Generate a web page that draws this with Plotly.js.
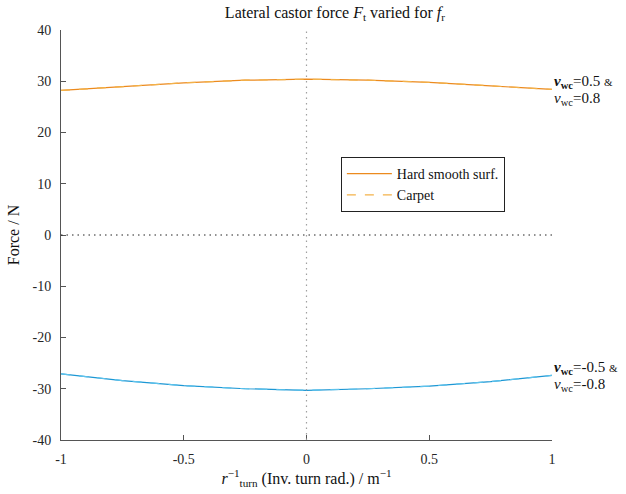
<!DOCTYPE html>
<html>
<head>
<meta charset="utf-8">
<script src="https://cdn.plot.ly/plotly-3.0.1.min.js"></script>
<style>
  html, body { margin: 0; padding: 0; background: #fff; }
  #chart { width: 626px; height: 494px; }
</style>
</head>
<body>
<div id="chart"></div>
<script>
// Inverse turn radius samples (1/m)
const invTurnRadius = [-1, -0.75, -0.5, -0.25, 0, 0.25, 0.5, 0.75, 1];

// Lateral castor force (N), positive wheel-chair speeds
const hardPos   = [28.2, 29.0, 29.7, 30.2, 30.4, 30.2, 29.8, 29.1, 28.4];
const carpetPos = [28.2, 29.0, 29.7, 30.2, 30.4, 30.2, 29.8, 29.1, 28.4];
// Lateral castor force (N), negative wheel-chair speeds
const hardNeg   = [-27.1, -28.4, -29.4, -30.0, -30.3, -30.0, -29.5, -28.6, -27.4];
const carpetNeg = [-27.1, -28.4, -29.4, -30.0, -30.3, -30.0, -29.5, -28.6, -27.4];

const xTicks = [-1, -0.5, 0, 0.5, 1];
const xTickText = ['-1', '-0.5', '0', '0.5', '1'];
const yTicks = [-40, -30, -20, -10, 0, 10, 20, 30, 40];
const yTickText = ['-40', '-30', '-20', '-10', '0', '10', '20', '30', '40'];

// Speed labels placed at the right-hand end of each curve pair
const posLabels = ['<b><i>v</i><sub>wc</sub></b>=0.5 <span style="font-size:11px">&</span>',
                   '<i>v</i><sub>wc</sub>=0.8'];
const negLabels = ['<b><i>v</i><sub>wc</sub></b>=-0.5 <span style="font-size:11px">&</span>',
                   '<i>v</i><sub>wc</sub>=-0.8'];

const serif = 'Liberation Serif';

const traces = [
  { x: invTurnRadius, y: hardPos, mode: 'lines', name: 'Hard smooth surf.',
    line: { color: '#EC8A1E', width: 1.2 } },
  { x: invTurnRadius, y: carpetPos, mode: 'lines', name: 'Carpet',
    line: { color: '#F3B24A', width: 1.2, dash: 'dash' } },
  { x: invTurnRadius, y: hardNeg, mode: 'lines', name: 'Hard smooth surf. (neg)',
    showlegend: false, line: { color: '#1D97D4', width: 1.2 } },
  { x: invTurnRadius, y: carpetNeg, mode: 'lines', name: 'Carpet (neg)',
    showlegend: false, line: { color: '#5EC3EC', width: 1.2, dash: 'dash' } }
];

function endLabel(text, yVal, shift) {
  return { xref: 'paper', yref: 'y', x: 1, y: yVal, xanchor: 'left', yanchor: 'middle',
           yshift: shift, showarrow: false, align: 'left',
           font: { family: serif, size: 15, color: '#111' }, text: text };
}
const posEnd = hardPos[hardPos.length - 1];
const negEnd = hardNeg[hardNeg.length - 1];

const layout = {
  width: 626, height: 494,
  margin: { l: 61, r: 74, t: 30, b: 54 },
  paper_bgcolor: '#fff', plot_bgcolor: '#fff',
  font: { family: serif, size: 14, color: '#262626' },
  title: {
    text: 'Lateral castor force <i>F</i><sub>t</sub> varied for <i>f</i><sub>r</sub>',
    font: { family: serif, size: 16, color: '#111' },
    x: 0.535, xanchor: 'center', y: 0.975, yanchor: 'middle'
  },
  xaxis: {
    range: [-1, 1], tickvals: xTicks, ticktext: xTickText,
    ticks: 'inside', ticklen: 5, tickcolor: '#555', tickwidth: 1,
    showline: true, linecolor: '#555', linewidth: 1, mirror: false,
    showgrid: false, zeroline: false, ticklabelstandoff: 6,
    tickfont: { family: serif, size: 14, color: '#262626' },
    title: { text: '<i>r</i><sup>−1</sup><sub>turn</sub> (Inv. turn rad.) / m<sup>−1</sup>',
             font: { family: serif, size: 16, color: '#111' }, standoff: 4 }
  },
  yaxis: {
    range: [-40, 40], tickvals: yTicks, ticktext: yTickText,
    ticks: 'inside', ticklen: 5, tickcolor: '#555', tickwidth: 1,
    showline: true, linecolor: '#555', linewidth: 1, mirror: false,
    showgrid: false, zeroline: false, ticklabelstandoff: 6,
    tickfont: { family: serif, size: 14, color: '#262626' },
    title: { text: 'Force / N', font: { family: serif, size: 16, color: '#111' }, standoff: 8 }
  },
  shapes: [
    { type: 'line', xref: 'x', yref: 'paper', x0: 0, x1: 0, y0: 0, y1: 1,
      line: { color: '#a0a0a0', width: 1.2, dash: '1.5px,4px' } },
    { type: 'line', xref: 'paper', yref: 'y', x0: 0, x1: 1, y0: 0, y1: 0,
      line: { color: '#222', width: 1, dash: '1.5px,4px' } }
  ],
  legend: {
    x: 0.57, y: 0.69, xanchor: 'left', yanchor: 'top',
    bgcolor: '#fff', bordercolor: '#222', borderwidth: 1,
    font: { family: serif, size: 14, color: '#111' },
    itemwidth: 45, tracegroupgap: 0
  },
  annotations: [
    endLabel(posLabels[0], posEnd, 7),
    endLabel(posLabels[1], posEnd, -10),
    endLabel(negLabels[0], negEnd, 7),
    endLabel(negLabels[1], negEnd, -10)
  ]
};

Plotly.newPlot('chart', traces, layout, { displayModeBar: false, staticPlot: true });
</script>
</body>
</html>
